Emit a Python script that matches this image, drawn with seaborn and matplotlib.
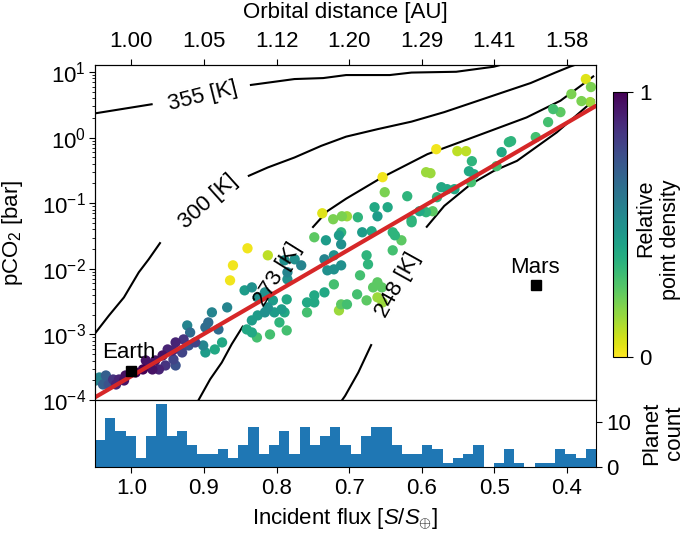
import numpy as np
import pandas as pd
import matplotlib
matplotlib.use("Agg")
import matplotlib.pyplot as plt
import seaborn as sns

# ---------------- data ----------------
flux_ticks = [1.0, 0.9, 0.8, 0.7, 0.6, 0.5, 0.4]
flux_tick_labels = ["1.0", "0.9", "0.8", "0.7", "0.6", "0.5", "0.4"]
dist_tick_labels = ["1.00", "1.05", "1.12", "1.20", "1.29", "1.41", "1.58"]

# planets: incident flux, log10 pCO2, relative point density
planet_flux = [0.374, 0.367, 0.394, 0.380, 0.368, 0.419, 0.409, 0.426, 0.443, 0.477,
               0.480, 0.490, 0.497, 0.580, 0.551, 0.539, 0.531, 0.535, 0.528, 0.532,
               0.594, 0.588, 0.654, 0.651, 0.573, 0.565, 0.555, 0.579, 0.620, 0.647,
               0.665, 0.661, 0.688, 0.703, 0.603, 0.594, 0.585, 0.614, 0.669, 0.640,
               0.737, 0.722, 0.710, 0.711, 0.748, 0.732, 0.711, 0.714, 0.840, 0.812,
               0.860, 0.864, 0.789, 0.775, 0.766, 0.785, 0.785, 0.734, 0.721, 0.730,
               0.721, 0.711, 0.721, 0.734, 0.748, 0.758, 0.748, 0.758, 0.711, 0.714,
               0.844, 0.834, 0.826, 0.816, 0.805, 0.812, 0.816, 0.803, 0.793, 0.786,
               0.789, 0.796, 0.786, 0.826, 0.834, 0.841, 0.834, 0.827, 0.809, 0.868,
               0.889, 0.894, 0.898, 0.923, 0.919, 0.880, 0.921, 0.912, 0.928, 0.939,
               0.943, 0.950, 0.957, 0.967, 0.976, 0.984, 0.980, 0.942, 0.930, 0.953,
               0.962, 0.971, 0.939, 0.901, 0.885, 0.875, 0.898, 0.994, 1.008, 1.017,
               1.025, 1.035, 1.044, 1.049, 1.031, 1.021, 1.010, 1.039, 0.637, 0.628,
               0.640, 0.676, 0.674, 0.685, 0.689, 0.676, 0.661, 0.667, 0.655, 0.661,
               0.654, 0.703, 0.682, 0.614]
planet_log_pco2 = [0.893, 0.771, 0.664, 0.557, 0.542, 0.435, 0.389, 0.237, 0.008, -0.054,
                   -0.069, -0.221, -0.435, -0.176, -0.206, -0.206, -0.359, -0.512, -0.558, -0.679,
                   -0.527, -0.542, -0.603, -0.832, -0.756, -0.786, -0.786, -0.908, -0.893, -1.061,
                   -1.061, -1.199, -1.214, -1.199, -1.122, -1.137, -1.122, -1.260, -1.427, -1.443,
                   -1.153, -1.244, -1.199, -1.443, -1.519, -1.565, -1.626, -1.489, -1.687, -1.794,
                   -1.947, -2.176, -1.870, -1.855, -1.947, -2.053, -2.160, -1.855, -1.794, -2.023,
                   -2.008, -1.947, -2.237, -2.359, -2.405, -2.512, -2.512, -2.664, -2.542, -2.634,
                   -2.328, -2.283, -2.435, -2.359, -2.481, -2.588, -2.664, -2.664, -2.618, -2.466,
                   -2.664, -2.817, -2.939, -2.710, -2.786, -2.924, -2.970, -3.046, -3.000, -2.588,
                   -2.664, -2.817, -2.893, -2.863, -2.970, -2.924, -3.168, -3.122, -3.076, -3.122,
                   -3.244, -3.229, -3.321, -3.397, -3.458, -3.534, -3.397, -3.382, -3.275, -3.473,
                   -3.534, -3.534, -3.473, -3.168, -3.229, -3.122, -3.275, -3.580, -3.626, -3.687,
                   -3.687, -3.626, -3.656, -3.702, -3.763, -3.763, -3.702, -3.763, -1.489, -1.565,
                   -1.718, -1.794, -1.931, -2.099, -2.389, -2.481, -2.206, -2.283, -2.283, -2.435,
                   -2.512, -2.542, -1.443, -1.290]
planet_density = [0.05, 0.20, 0.20, 0.20, 0.15, 0.30, 0.25, 0.30, 0.30, 0.35,
                  0.35, 0.40, 0.30, 0.02, 0.10, 0.10, 0.35, 0.40, 0.40, 0.30,
                  0.15, 0.15, 0.02, 0.20, 0.40, 0.40, 0.40, 0.35, 0.35, 0.40,
                  0.40, 0.45, 0.35, 0.15, 0.40, 0.35, 0.25, 0.35, 0.40, 0.35,
                  0.05, 0.20, 0.20, 0.35, 0.25, 0.45, 0.50, 0.45, 0.02, 0.10,
                  0.02, 0.02, 0.50, 0.50, 0.55, 0.55, 0.50, 0.55, 0.50, 0.50,
                  0.50, 0.50, 0.30, 0.40, 0.40, 0.40, 0.40, 0.30, 0.25, 0.15,
                  0.45, 0.50, 0.50, 0.50, 0.45, 0.50, 0.50, 0.45, 0.45, 0.40,
                  0.40, 0.35, 0.30, 0.45, 0.45, 0.40, 0.40, 0.30, 0.30, 0.55,
                  0.55, 0.65, 0.65, 0.55, 0.65, 0.65, 0.75, 0.80, 0.85, 0.90,
                  0.90, 0.90, 0.95, 0.95, 0.95, 1.00, 0.95, 0.80, 0.80, 0.85,
                  0.90, 0.95, 0.75, 0.55, 0.40, 0.40, 0.45, 1.00, 0.95, 0.90,
                  0.85, 0.70, 0.55, 0.55, 0.75, 0.90, 0.95, 0.70, 0.35, 0.25,
                  0.30, 0.35, 0.35, 0.30, 0.30, 0.25, 0.25, 0.25, 0.25, 0.15,
                  0.15, 0.30, 0.45, 0.35]

# temperature contours (two segments each, gap for the label)
t355_a_flux = [1.05, 0.9706]
t355_a_logp = [0.37, 0.511]
t355_b_flux = [0.8367, 0.7753, 0.7357, 0.7042, 0.6441, 0.6141, 0.5526, 0.5143, 0.5007, 0.4897]
t355_b_logp = [0.801, 0.893, 0.908, 0.954, 0.954, 0.992, 1.004, 1.061, 1.081, 1.114]
t300_a_flux = [1.05, 1.0307, 1.0102, 0.9897, 0.9761, 0.9597]
t300_a_logp = [-2.985, -2.710, -2.436, -2.053, -1.855, -1.595]
t300_b_flux = [0.8395, 0.8121, 0.7753, 0.7384, 0.7042, 0.6605, 0.6141, 0.5690, 0.5239,
               0.4870, 0.4501, 0.4160, 0.3955, 0.3873]
t300_b_logp = [-0.588, -0.455, -0.303, -0.125, 0.015, 0.130, 0.244, 0.389, 0.557,
               0.695, 0.832, 0.992, 1.084, 1.115]
t273_a_flux = [0.9078, 0.8914, 0.8754, 0.8617, 0.8459]
t273_a_logp = [-4.008, -3.683, -3.428, -3.148, -2.868]
t273_b_flux = [0.7507, 0.7302, 0.7042, 0.6550, 0.5922, 0.5239, 0.4556, 0.4091, 0.3777, 0.3627]
t273_b_logp = [-1.374, -1.122, -0.931, -0.608, -0.252, 0.027, 0.308, 0.562, 0.817, 0.943]
t248_a_flux = [0.7101, 0.7056, 0.6874, 0.6691]
t248_a_logp = [-4.008, -3.937, -3.580, -3.148]
t248_b_flux = [0.5940, 0.5690, 0.5325, 0.5007, 0.4688, 0.4142, 0.3664, 0.3627]
t248_b_logp = [-1.371, -1.041, -0.710, -0.507, -0.354, 0.079, 0.537, 0.588]

contour_labels = ["355 [K]", "300 [K]", "273 [K]", "248 [K]"]
contour_label_flux = [0.902, 0.894, 0.798, 0.633]
contour_label_logp = [0.634, -0.970, -2.084, -2.252]
contour_label_rot = [14, 42, 58, 61]

# fitted trend
fit_flux = [1.05, 0.36]
fit_pco2 = [1.1e-4, 3.05]

# Earth and Mars
body_names = ["Earth", "Mars"]
body_flux = [1.0, 0.443]
body_pco2 = [2.8e-4, 5.6e-3]

# histogram of planet counts (bins from high to low flux)
hist_edges = list(np.linspace(1.05, 0.36, 50))
hist_counts = [6, 11, 8, 7, 2, 7, 14, 7, 8, 5,
               3, 3, 4, 2, 5, 9, 3, 5, 8, 3,
               9, 5, 7, 9, 5, 3, 7, 9, 9, 5,
               3, 3, 5, 4, 1, 2, 3, 5, 0, 1,
               4, 1, 0, 1, 1, 4, 3, 2, 4]

# ---------------- style ----------------
sns.set_style("ticks")
plt.rcParams['font.family'] = ['Liberation Sans', 'DejaVu Sans']
plt.rcParams['mathtext.fontset'] = 'custom'
plt.rcParams['mathtext.rm'] = 'Liberation Sans'
plt.rcParams['mathtext.it'] = 'Liberation Sans:italic'
plt.rcParams['mathtext.bf'] = 'Liberation Sans:bold'
for k in ['axes.edgecolor', 'xtick.color', 'ytick.color', 'text.color', 'axes.labelcolor']:
    plt.rcParams[k] = 'black'
FS = 16
FS_ANN = 16

fig = plt.figure(figsize=(6.85, 5.35), dpi=100)
ax = fig.add_axes([0.1387, 0.2523, 0.7314, 0.6262])
axh = fig.add_axes([0.1387, 0.1271, 0.7314, 0.1252], sharex=ax)
cax = fig.add_axes([0.8949, 0.3327, 0.0204, 0.4953])

ax.set_yscale('log')

# contours
for fx, lp in [(t355_a_flux, t355_a_logp), (t355_b_flux, t355_b_logp),
               (t300_a_flux, t300_a_logp), (t300_b_flux, t300_b_logp),
               (t273_a_flux, t273_a_logp), (t273_b_flux, t273_b_logp),
               (t248_a_flux, t248_a_logp), (t248_b_flux, t248_b_logp)]:
    ax.plot(fx, 10 ** np.array(lp), color='black', lw=1.5, solid_capstyle='butt',
            solid_joinstyle='round', zorder=2)
for lab, fx, lp, rot in zip(contour_labels, contour_label_flux, contour_label_logp, contour_label_rot):
    ax.text(fx, 10 ** lp, lab, rotation=rot, ha='center', va='center', fontsize=FS_ANN,
            rotation_mode='anchor', zorder=7)

# scatter
df = pd.DataFrame({'flux': planet_flux, 'pco2': 10 ** np.array(planet_log_pco2),
                   'dens': planet_density}).sort_values('dens')
sns.scatterplot(data=df, x='flux', y='pco2', hue='dens', palette='viridis_r',
                hue_norm=(0, 1), s=55, linewidth=0, legend=False, ax=ax, zorder=4)

# fit line
ax.plot(fit_flux, fit_pco2, color='#d62728', lw=3, zorder=5)

# Earth / Mars
ax.plot(body_flux, body_pco2, 's', color='black', ms=7.5, zorder=6)
ax.text(body_flux[0] + 0.003, body_pco2[0] * 1.9, body_names[0], ha='center', va='center',
        fontsize=FS_ANN, zorder=6)
ax.text(body_flux[1] + 0.001, body_pco2[1] * 1.9, body_names[1], ha='center', va='center',
        fontsize=FS_ANN, zorder=6)

ax.set_xlim(1.05, 0.36)
ax.set_ylim(1e-4, 12.8)
ax.set_ylabel(r'pCO$_2$ [bar]', fontsize=FS, labelpad=12)
ax.set_xlabel('')
ax.tick_params(axis='x', bottom=False, labelbottom=False)
ax.tick_params(axis='y', labelsize=FS, which='both', right=False, pad=2)
ax.tick_params(axis='y', which='major', length=4.5)
ax.tick_params(axis='y', which='minor', length=2.5)

# top axis
axt = ax.twiny()
axt.set_xlim(ax.get_xlim())
axt.set_xticks(flux_ticks)
axt.set_xticklabels(dist_tick_labels, fontsize=FS)
axt.set_xlabel('Orbital distance [AU]', fontsize=FS, labelpad=9)
axt.tick_params(axis='x', length=4.5, pad=5)

# histogram
centers = [(a + b) / 2 for a, b in zip(hist_edges[:-1], hist_edges[1:])]
sns.histplot(x=centers, weights=hist_counts, bins=sorted(hist_edges), ax=axh, color='#1f77b4',
             alpha=1, linewidth=0)
axh.set_xlim(1.05, 0.36)
axh.set_ylim(0, 15)
axh.set_xticks(flux_ticks)
axh.set_xticklabels(flux_tick_labels, fontsize=FS)
axh.set_xlabel(r'Incident flux [$S/S_{\oplus}$]', fontsize=FS, labelpad=5)
axh.yaxis.tick_right()
axh.set_yticks([0, 10])
axh.set_yticklabels(['0', '10'], fontsize=FS)
axh.set_ylabel('')
axh.tick_params(axis='x', length=4.5)
axh.tick_params(axis='y', length=4.5, left=False, pad=3)
fig.text(0.968, 0.1907, 'Planet\ncount', rotation=90, ha='center', va='center',
         fontsize=FS, linespacing=1.1)

# colorbar
sm = plt.cm.ScalarMappable(cmap='viridis_r', norm=plt.Normalize(0, 1))
cb = fig.colorbar(sm, cax=cax, ticks=[0, 1])
cb.ax.set_yticklabels(['0', '1'], fontsize=FS)
cb.outline.set_linewidth(0.8)
cb.ax.tick_params(length=4.5, pad=4)
fig.text(0.961, 0.5514, 'Relative\npoint density', rotation=90, ha='center', va='center',
         fontsize=15.5, linespacing=1.25, multialignment='right')

fig.savefig('out.png', dpi=100)
